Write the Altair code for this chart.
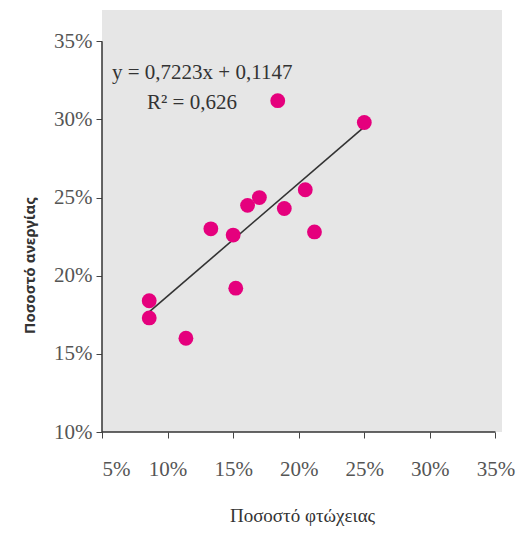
import altair as alt
import pandas as pd

# Data (fractions)
poverty = [0.086, 0.086, 0.114, 0.133, 0.150, 0.152, 0.161, 0.170, 0.184, 0.189, 0.205, 0.212, 0.250]
unemployment = [0.184, 0.173, 0.160, 0.230, 0.226, 0.192, 0.245, 0.250, 0.312, 0.243, 0.255, 0.228, 0.298]

slope = 0.7223
intercept = 0.1147
eq_text = ["y = 0,7223x + 0,1147", "R² = 0,626"]

x_ticks = [0.05, 0.10, 0.15, 0.20, 0.25, 0.30, 0.35]
y_ticks = [0.10, 0.15, 0.20, 0.25, 0.30, 0.35]
x_domain = [0.05, 0.355]
y_domain = [0.10, 0.37]

df = pd.DataFrame({"x": poverty, "y": unemployment})
xmin, xmax = min(poverty), max(poverty)
line_df = pd.DataFrame({"x": [xmin, xmax], "y": [slope * xmin + intercept, slope * xmax + intercept]})

serif = "Liberation Serif"
xs = alt.Scale(domain=x_domain, nice=False, zero=False)
ys = alt.Scale(domain=y_domain, nice=False, zero=False)

x_axis = alt.Axis(values=x_ticks, format=".0%", domain=False, grid=False, tickSize=6,
                  tickColor="#444", labelFont=serif, labelFontSize=21, labelColor="#555",
                  labelPadding=20, title="Ποσοστό φτώχειας", titleFont=serif, titleFontSize=19,
                  titleFontWeight="normal", titleColor="#333", titlePadding=27)
y_axis = alt.Axis(values=y_ticks, format=".0%", domain=False, grid=False, tickSize=6,
                  tickColor="#444", labelFont=serif, labelFontSize=21, labelColor="#555",
                  labelPadding=4, title="Ποσοστό ανεργίας", titleFont="Noto Sans",
                  titleFontSize=15, titleFontWeight="bold", titleColor="#333",
                  titleX=-73, titleY=255, titleAngle=-90, titleBaseline="middle", titleAlign="center")

one = pd.DataFrame({"a": [0]})

bg = alt.Chart(one).mark_rect(fill="#E6E6E6", opacity=1).encode(
    x=alt.datum(x_domain[0], scale=xs, axis=x_axis), x2=alt.datum(x_domain[1]),
    y=alt.datum(y_domain[0], scale=ys, axis=y_axis), y2=alt.datum(y_domain[1]),
)

points = alt.Chart(df).mark_circle(size=220, color="#E5007D", opacity=1).encode(
    x=alt.X("x:Q", scale=xs, axis=x_axis),
    y=alt.Y("y:Q", scale=ys, axis=y_axis),
)

trend = alt.Chart(line_df).mark_line(color="#333333", strokeWidth=1.6).encode(
    x=alt.X("x:Q", scale=xs), y=alt.Y("y:Q", scale=ys)
)

x_line = alt.Chart(one).mark_rule(color="#333", strokeWidth=1.5).encode(
    x=alt.datum(x_ticks[0], scale=xs), x2=alt.datum(x_ticks[-1]), y=alt.datum(y_ticks[0], scale=ys)
)
y_line = alt.Chart(one).mark_rule(color="#333", strokeWidth=1.5).encode(
    y=alt.datum(y_ticks[0], scale=ys), y2=alt.datum(y_ticks[-1]), x=alt.datum(x_ticks[0], scale=xs)
)

eq1 = alt.Chart(pd.DataFrame({"t": [eq_text[0]]})).mark_text(
    font=serif, fontSize=21, color="#333", align="left", baseline="middle"
).encode(x=alt.value(10), y=alt.value(63), text="t:N")
eq2 = alt.Chart(pd.DataFrame({"t": [eq_text[1]]})).mark_text(
    font=serif, fontSize=21, color="#333", align="left", baseline="middle"
).encode(x=alt.value(45), y=alt.value(93), text="t:N")

chart = alt.layer(bg, x_line, y_line, trend, points, eq1, eq2).properties(
    width=400, height=422, background="white",
    padding={"left": 14, "top": 2, "right": 5, "bottom": 5}
).configure_view(fill="#E6E6E6", strokeWidth=0)

chart.save("out.html", embed_options={"renderer": "svg", "actions": False})
